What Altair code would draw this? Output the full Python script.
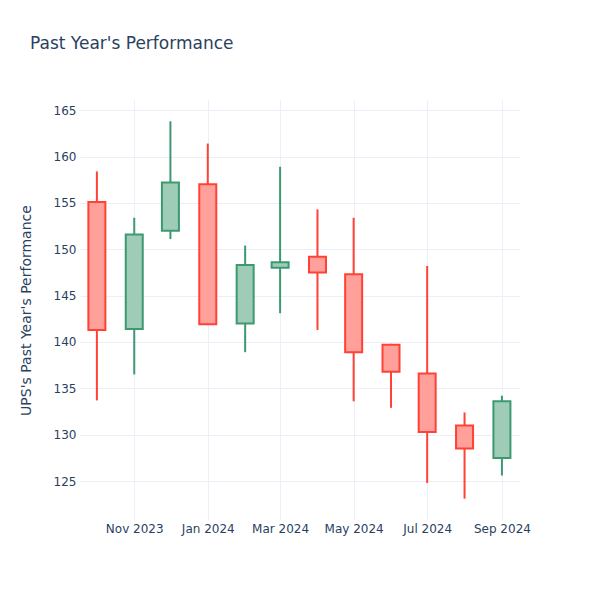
import altair as alt
import pandas as pd

dates = ["2023-10-01", "2023-11-01", "2023-12-01", "2024-01-01", "2024-02-01", "2024-03-01",
         "2024-04-01", "2024-05-01", "2024-06-01", "2024-07-01", "2024-08-01", "2024-09-01"]
opens = [155.1, 141.4, 152.0, 157.0, 142.0, 148.0, 149.2, 147.3, 139.7, 136.6, 131.0, 127.5]
highs = [158.4, 153.4, 163.8, 161.4, 150.4, 158.9, 154.3, 153.4, 139.8, 148.2, 132.4, 134.2]
lows = [133.7, 136.5, 151.1, 141.9, 138.9, 143.1, 141.3, 133.6, 132.9, 124.8, 123.1, 125.6]
closes = [141.3, 151.6, 157.2, 141.9, 148.3, 148.6, 147.5, 138.9, 136.8, 130.3, 128.5, 133.6]
y_ticks = [125, 130, 135, 140, 145, 150, 155, 160, 165]

df = pd.DataFrame({"date": dates, "open": opens, "high": highs, "low": lows, "close": closes})
df["dir"] = ["up" if c >= o else "down" for o, c in zip(opens, closes)]

TXT = "#2a3f5f"
GRID = "#EBF0F8"

x_ticks = [alt.DateTime(year=y, month=m, date=1, utc=True)
           for y, m in [(2023, 11), (2024, 1), (2024, 3), (2024, 5), (2024, 7), (2024, 9)]]

x_enc = alt.X(
    "date:T",
    scale=alt.Scale(type="utc", padding=0,
                    domain=[alt.DateTime(year=2023, month=9, date=17, utc=True),
                            alt.DateTime(year=2024, month=9, date=16, utc=True)]),
    axis=alt.Axis(values=x_ticks, labelExpr="utcFormat(datum.value, '%b %Y')", title=None,
                  tickSize=0, domain=False, gridColor=GRID, labelColor=TXT,
                  labelFontSize=12, labelPadding=3, labelFont="DejaVu Sans"),
)
y_scale = alt.Scale(domain=[120.8, 166.1], nice=False, zero=False)
y_axis = alt.Axis(values=y_ticks, title="UPS's Past Year's Performance", tickSize=0,
                  domain=False, gridColor=GRID, labelColor=TXT, labelFontSize=12,
                  labelPadding=4, titleColor=TXT, titleFontSize=14, titleFontWeight="normal",
                  titlePadding=20, labelFont="DejaVu Sans", titleFont="DejaVu Sans")

stroke_scale = alt.Scale(domain=["up", "down"], range=["#3D9970", "#FF4136"])
fill_scale = alt.Scale(domain=["up", "down"], range=["#9ECCB7", "#FFA09A"])

base = alt.Chart(df).encode(x=x_enc)

wicks = base.mark_rule(strokeWidth=2).encode(
    y=alt.Y("low:Q", scale=y_scale, axis=y_axis),
    y2="high:Q",
    stroke=alt.Stroke("dir:N", scale=stroke_scale, legend=None),
)
bodies = base.mark_bar(size=17, strokeWidth=2).encode(
    y=alt.Y("open:Q", scale=y_scale, axis=y_axis),
    y2="close:Q",
    fill=alt.Fill("dir:N", scale=fill_scale, legend=None),
    stroke=alt.Stroke("dir:N", scale=stroke_scale, legend=None),
)

chart = alt.layer(wicks, bodies).properties(
    width=440,
    height=420,
    autosize=alt.AutoSizeParams(type="none"),
    padding={"left": 72, "top": 92, "right": 70, "bottom": 70},
    view=alt.ViewBackground(stroke="transparent", strokeWidth=0),
    title=alt.TitleParams("Past Year's Performance", anchor="start", frame="group", dx=-50,
                          offset=47, fontSize=17, color=TXT, font="DejaVu Sans",
                          fontWeight="normal"),
).configure(font="DejaVu Sans").configure_view(strokeWidth=0, stroke="transparent")

chart.save("out.html", embed_options={"renderer": "svg", "actions": False})
